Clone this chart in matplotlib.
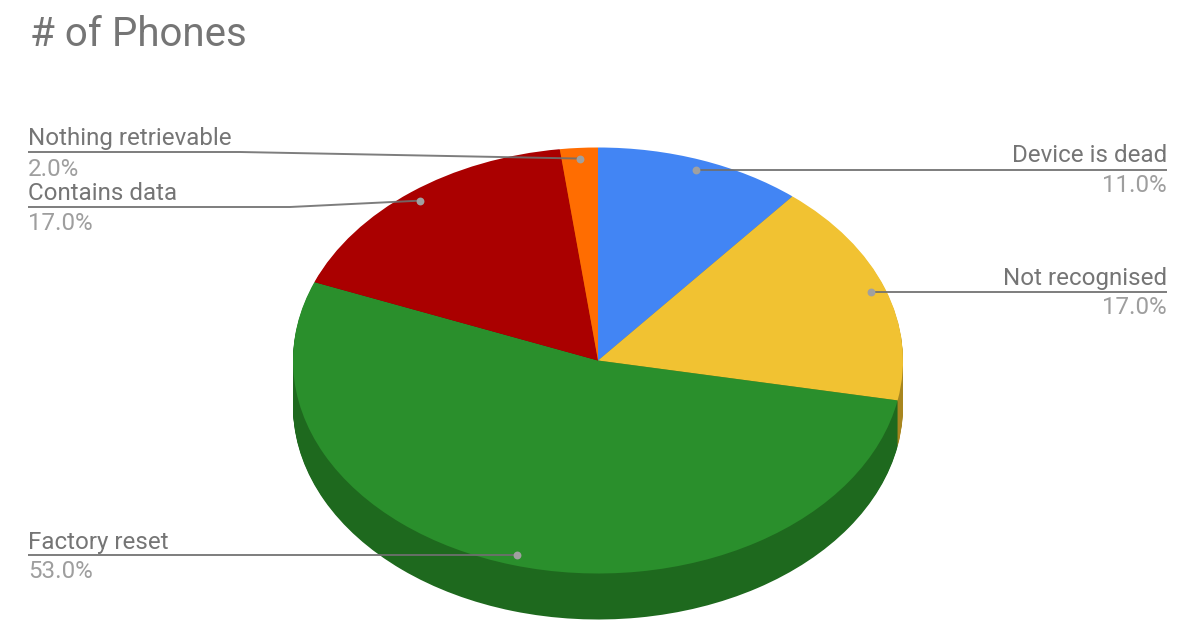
import numpy as np
import matplotlib
matplotlib.use('Agg')
import matplotlib.pyplot as plt

plt.rcParams['font.family'] = ['Roboto', 'DejaVu Sans']

labels = ['Device is dead', 'Not recognised', 'Factory reset', 'Contains data', 'Nothing retrievable']
values = [11.0, 17.0, 53.0, 17.0, 2.0]
colors = ['#4285f4', '#f1c232', '#2a8f2c', '#aa0000', '#ff6d01']
dark = ['#2e5dab', '#a8861f', '#1e691e', '#770000', '#b24c00']

# pie geometry in pixels
W, H = 1200, 637
cx, cy = 598, 360.5
rx, ry = 305, 213
depth = 46

fig = plt.figure(figsize=(W / 100, H / 100), dpi=100, facecolor='white')

ax = fig.add_axes([0, 0, 1, 1])
# extruded wall: stack of dark pies, deepest first
for d in np.arange(depth, 0, -1):
    ax.pie(values, colors=dark, startangle=90, counterclock=False,
           center=(0, -d / ry), wedgeprops={'linewidth': 0})
ax.pie(values, colors=colors, startangle=90, counterclock=False,
       wedgeprops={'linewidth': 0})
ax.set_aspect('auto')
ax.set_xlim(-cx / rx, (W - cx) / rx)
ax.set_ylim(-(H - cy) / ry, cy / ry)
ax.axis('off')

# overlay in pixel coordinates for text and leaders
ov = fig.add_axes([0, 0, 1, 1])
ov.set_xlim(0, W)
ov.set_ylim(H, 0)
ov.axis('off')
ov.patch.set_alpha(0)

# leader anchors sit at the slice mid angle
mids = (np.cumsum(values) - np.array(values) / 2) / sum(values) * 2 * np.pi
ax_pts = [(cx + 0.95 * rx * np.sin(m), cy - 0.95 * ry * np.cos(m)) for m in mids]

line_col = '#6f6f6f'
dot_col = '#a0a0a0'
text_col = '#757575'
pct_col = '#9e9e9e'

# label: text x, alignment, text baseline, line y, elbow x
layout = [
    (1167, 'right', 162.5, None, None),
    (1167, 'right', 284.5, None, None),
    (28, 'left', 548.5, None, None),
    (28, 'left', 199.5, 207, 290),
    (28, 'left', 145.5, 152, 240),
]

for i in range(len(labels)):
    tx, ha, base, ly, elbow = layout[i]
    px, py = ax_pts[i]
    if elbow is None:
        xs, ys = [tx, px], [py, py]
    else:
        xs, ys = [tx, elbow, px], [ly, ly, py]
    ov.plot(xs, ys, color=line_col, lw=1.4, alpha=0.9, solid_capstyle='butt')
    ov.scatter([px], [py], s=32, color=dot_col, zorder=3, linewidths=0)
    ov.text(tx, base, labels[i], ha=ha, va='baseline', fontsize=17.4, color=text_col)
    ov.text(tx, base + 30, '%.1f%%' % values[i], ha=ha, va='baseline', fontsize=17.4, color=pct_col)

ov.text(30, 46, '# of Phones', ha='left', va='baseline', fontsize=29, color='#757575')

fig.savefig('out.png', dpi=100, facecolor='white')
